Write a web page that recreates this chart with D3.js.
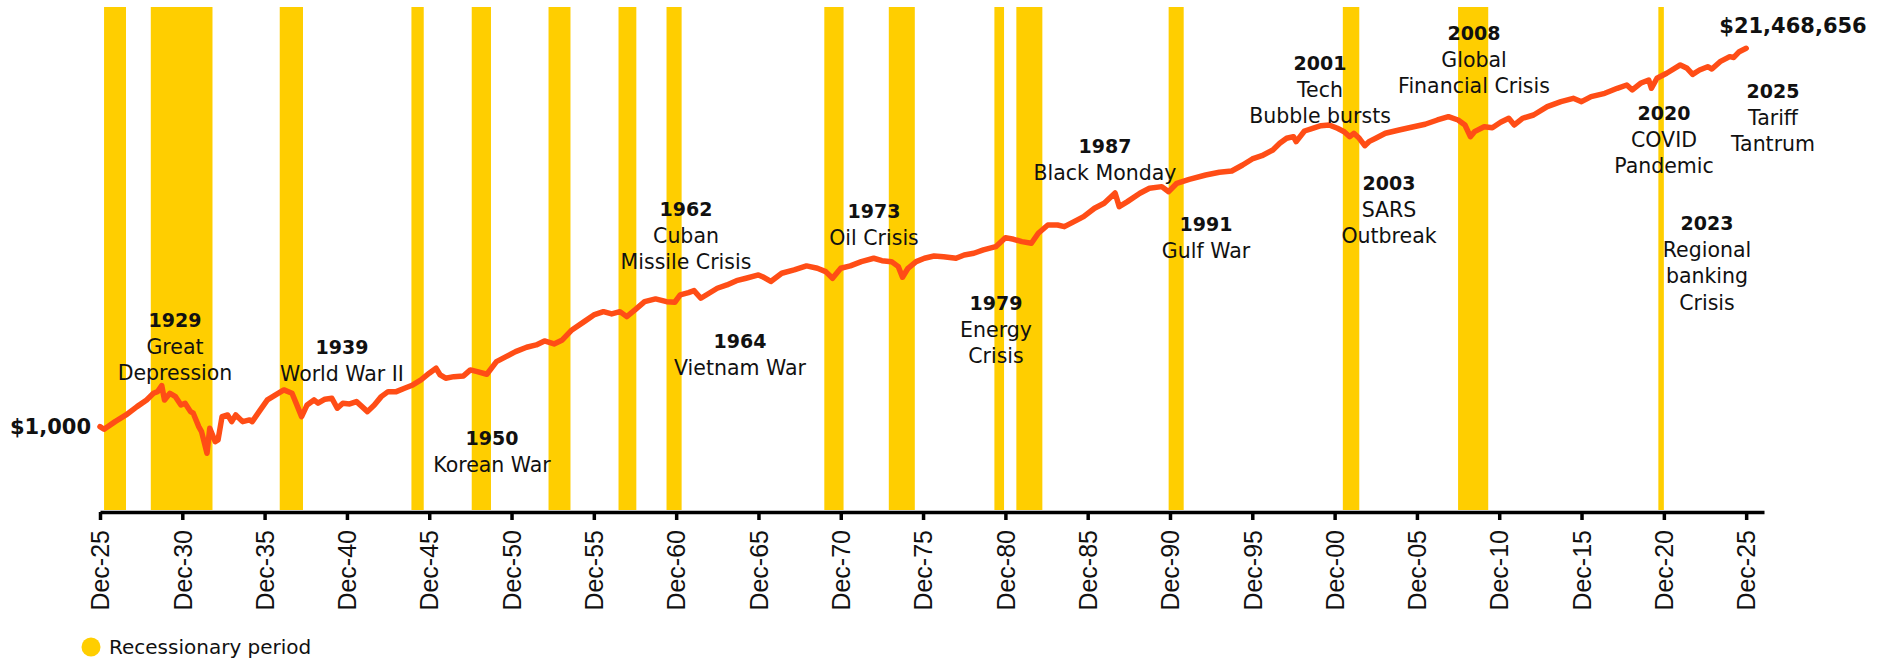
<!DOCTYPE html>
<html>
<head>
<meta charset="utf-8">
<script src="https://cdn.jsdelivr.net/npm/d3@7/dist/d3.min.js"></script>
<style>
  html, body { margin: 0; padding: 0; background: #ffffff; }
  svg { display: block; }
</style>
</head>
<body>
<svg id="chart" width="1887" height="658"></svg>
<script>
// Growth of $1,000 invested in US stocks, month of each reading
const months = [
  "1925-12","1926-03","1926-11","1927-07","1928-03","1928-10","1929-03","1929-06","1929-09","1929-11",
  "1930-03","1930-07","1930-11","1931-02","1931-06","1931-08","1931-12","1932-02","1932-06","1932-08",
  "1932-12","1933-02","1933-05","1933-09","1933-12","1934-03","1934-08","1935-01","1935-03","1935-08",
  "1936-02","1936-08","1937-02","1937-08","1937-12","1938-03","1938-07","1938-12","1939-03","1939-08",
  "1940-01","1940-05","1940-09","1941-02","1941-07","1941-11","1942-03","1942-08","1943-01","1943-06",
  "1943-12","1944-06","1944-12","1945-06","1945-12","1946-05","1946-08","1946-12","1947-06","1948-01",
  "1948-06","1948-11","1949-06","1950-01","1950-08","1951-03","1951-11","1952-06","1952-12","1953-07",
  "1954-01","1954-08","1955-05","1955-12","1956-07","1957-01","1957-07","1957-12","1958-06","1959-01",
  "1959-09","1960-05","1960-11","1961-03","1961-09","1962-01","1962-06","1962-12","1963-06","1964-01",
  "1964-08","1965-03","1965-12","1966-03","1966-09","1967-05","1968-02","1968-11","1969-07","1970-01",
  "1970-06","1970-12","1971-07","1972-03","1972-12","1973-06","1974-01","1974-06","1974-09","1975-01",
  "1975-07","1976-01","1976-08","1977-03","1977-12","1978-06","1979-01","1979-08","1980-05","1980-12",
  "1981-06","1981-12","1982-07","1982-12","1983-07","1984-02","1984-07","1985-02","1985-09","1986-05",
  "1986-12","1987-08","1987-11","1988-05","1989-02","1989-09","1990-06","1990-11","1991-05","1992-02",
  "1993-02","1993-12","1994-09","1995-05","1995-12","1996-07","1997-03","1997-08","1998-01","1998-06",
  "1998-08","1999-02","1999-08","2000-02","2000-08","2001-02","2001-07","2001-11","2002-02","2002-06",
  "2002-10","2003-01","2003-06","2004-01","2004-11","2005-08","2006-06","2007-03","2007-11","2008-06",
  "2008-11","2009-03","2009-06","2010-01","2010-07","2011-01","2011-07","2011-11","2012-05","2013-01",
  "2013-11","2014-09","2015-06","2015-12","2016-07","2017-05","2018-02","2018-09","2019-01","2019-07",
  "2020-01","2020-03","2020-07","2021-02","2021-12","2022-05","2022-09","2023-02","2023-08","2023-11",
  "2024-05","2024-12","2025-03","2025-07","2025-12"
];

// Portfolio value in dollars
const values = [
  1000, 934, 1141, 1361, 1694, 2021, 2412, 2515, 2947, 2021,
  2412, 2205, 1772, 1853, 1485, 1423, 1000, 877, 496, 959,
  673, 704, 1302, 1361, 1141, 1361, 1141, 1193, 1141, 1485,
  2021, 2307, 2632, 2412, 1694, 1302, 1772, 2021, 1853, 2059,
  2114, 1624, 1853, 1819, 1933, 1694, 1485, 1772, 2205, 2515,
  2515, 2752, 3002, 3424, 4087, 4663, 3907, 3583, 3736, 3805,
  4458, 4264, 3980, 5548, 6330, 7222, 8110, 8617, 9575, 8849,
  9831, 12790, 15920, 18990, 20730, 19500, 20730, 18170, 21680, 26980,
  28970, 26980, 26550, 32190, 34200, 36060, 29510, 33660, 38400, 41880,
  46950, 50000, 54570, 52120, 45920, 57020, 62230, 69180, 65010, 59500,
  50000, 65010, 69180, 77440, 84720, 79500, 77440, 67920, 51290, 65010,
  77440, 84720, 89950, 88310, 84720, 92470, 96620, 105400, 115000, 145800,
  139700, 131200, 125800, 163700, 203700, 203700, 195000, 222300, 253600, 316400,
  361000, 473000, 330000, 376700, 469900, 535800, 559500, 490000, 611700, 679300,
  760600, 817000, 845300, 990000, 1161000, 1265000, 1471000, 1755000, 2003000, 2089000,
  1832000, 2427000, 2606000, 2793000, 2844000, 2606000, 2384000, 2089000, 2285000, 2003000,
  1648000, 1832000, 2003000, 2285000, 2493000, 2677000, 2897000, 3244000, 3540000, 3244000,
  2844000, 2089000, 2384000, 2718000, 2648000, 3054000, 3394000, 2844000, 3394000, 3700000,
  4605000, 5257000, 5750000, 5257000, 5997000, 6557000, 7482000, 8163000, 7161000, 8535000,
  9313000, 7482000, 9742000, 11120000, 13840000, 12680000, 10820000, 12120000, 13220000, 12450000,
  15090000, 17220000, 16860000, 19630000, 21468656
];

// Recessionary periods (start / end month)
const recessionStarts = ["1926-03","1929-01","1936-11","1944-11","1948-07","1953-03","1957-06","1960-05",
                         "1969-12","1973-11","1980-04","1981-08","1990-11","2001-06","2008-06","2020-08"];
const recessionEnds   = ["1927-07","1932-10","1938-04","1945-08","1949-09","1954-07","1958-07","1961-04",
                         "1971-02","1975-06","1980-11","1983-03","1991-10","2002-06","2010-04","2020-12"];

// Axis ticks: every fifth December
const tickYears = [1925,1930,1935,1940,1945,1950,1955,1960,1965,1970,1975,
                   1980,1985,1990,1995,2000,2005,2010,2015,2020,2025];

// Event call-outs
const eventYears = ["1929","1939","1950","1962","1964","1973","1979","1987",
                    "1991","2001","2003","2008","2020","2023","2025"];
const eventLabels = [
  ["Great", "Depression"],
  ["World War II"],
  ["Korean War"],
  ["Cuban", "Missile Crisis"],
  ["Vietnam War"],
  ["Oil Crisis"],
  ["Energy", "Crisis"],
  ["Black Monday"],
  ["Gulf War"],
  ["Tech", "Bubble bursts"],
  ["SARS", "Outbreak"],
  ["Global", "Financial Crisis"],
  ["COVID", "Pandemic"],
  ["Regional", "banking", "Crisis"],
  ["Tariff", "Tantrum"]
];

const startLabel = "$1,000";
const endLabel = "$21,468,656";
const legendLabel = "Recessionary period";

// ---- layout ----
const W = 1887, H = 658;
const plotTop = 7, axisY = 512, plotBottom = 510;
const xLeft = 100, xRight = 1764;

// Call-out centre positions (x, y of the year line)
const eventPos = [
  [175, 320], [342, 347], [492, 438], [686, 209], [740, 341], [874, 211], [996, 303],
  [1105, 146], [1206, 224], [1320, 63], [1389, 183], [1474, 33], [1664, 113],
  [1707, 223], [1773, 91]
];

const COLOR_LINE = "#ff4d16";
const COLOR_BAND = "#ffce00";
const INK = "#111111";
const FONT = "'DejaVu Sans', Verdana, sans-serif";

const parseMonth = d3.timeParse("%Y-%m");
const series = months.map((m, i) => ({ date: parseMonth(m), value: values[i] }));

const x = d3.scaleTime()
  .domain([new Date(1925, 11, 1), new Date(2027, 0, 1)])
  .range([xLeft, xRight]);

const y = d3.scaleLog()
  .domain([111, 63.8e6])
  .range([plotBottom, plotTop]);

const svg = d3.select("#chart");

// Recession bands
svg.append("g")
  .selectAll("rect")
  .data(recessionStarts.map((s, i) => ({ start: parseMonth(s), end: parseMonth(recessionEnds[i]) })))
  .join("rect")
  .attr("x", d => x(d.start))
  .attr("width", d => x(d.end) - x(d.start))
  .attr("y", plotTop)
  .attr("height", plotBottom - plotTop)
  .attr("fill", COLOR_BAND);

// Growth line
const line = d3.line()
  .x(d => x(d.date))
  .y(d => y(d.value))
  .curve(d3.curveLinear);

svg.append("path")
  .datum(series)
  .attr("d", line)
  .attr("fill", "none")
  .attr("stroke", COLOR_LINE)
  .attr("stroke-width", 5.5)
  .attr("stroke-linejoin", "round")
  .attr("stroke-linecap", "round");

// X axis
const fmt = d3.timeFormat("%b-%y");
const xAxis = d3.axisBottom(x)
  .tickValues(tickYears.map(yr => new Date(yr, 11, 1)))
  .tickFormat(fmt)
  .tickSize(8)
  .tickSizeOuter(0);

const gx = svg.append("g")
  .attr("transform", `translate(0,${axisY})`)
  .call(xAxis);

gx.select(".domain")
  .attr("stroke", "#000")
  .attr("stroke-width", 3.5);
gx.selectAll(".tick line")
  .attr("stroke", "#000")
  .attr("stroke-width", 3.5);
gx.selectAll(".tick text")
  .attr("fill", INK)
  .attr("font-family", "'Liberation Sans', Arial, sans-serif")
  .attr("font-size", 25)
  .attr("x", -18)
  .attr("y", 0)
  .attr("dy", "0.35em")
  .attr("transform", "rotate(-90)")
  .style("text-anchor", "end");

// Start and end value labels
const first = series[0], last = series[series.length - 1];
svg.append("text")
  .attr("x", x(first.date) - 9)
  .attr("y", y(first.value) + 0.36 * 21)
  .attr("text-anchor", "end")
  .attr("font-family", FONT)
  .attr("font-weight", "bold")
  .attr("font-size", 21)
  .attr("fill", INK)
  .text(startLabel);

svg.append("text")
  .attr("x", 1793)
  .attr("y", 25 + 0.36 * 21)
  .attr("text-anchor", "middle")
  .attr("font-family", FONT)
  .attr("font-weight", "bold")
  .attr("font-size", 21)
  .attr("fill", INK)
  .text(endLabel);

// Event call-outs
const lineGap = 26.5;
const ev = svg.append("g").attr("font-family", FONT).attr("fill", INK).attr("text-anchor", "middle");
eventYears.forEach((yr, i) => {
  const [cx, cy] = eventPos[i];
  ev.append("text")
    .attr("x", cx)
    .attr("y", cy + 0.36 * 19)
    .attr("font-weight", "bold")
    .attr("font-size", 19)
    .text(yr);
  eventLabels[i].forEach((t, j) => {
    ev.append("text")
      .attr("x", cx)
      .attr("y", cy + lineGap * (j + 1) + 0.36 * 20.5)
      .attr("font-size", 20.5)
      .text(t);
  });
});

// Legend
const lg = svg.append("g");
lg.append("circle")
  .attr("cx", 91).attr("cy", 647).attr("r", 9.5)
  .attr("fill", COLOR_BAND);
lg.append("text")
  .attr("x", 109)
  .attr("y", 647 + 0.36 * 20)
  .attr("font-family", FONT)
  .attr("font-size", 20)
  .attr("fill", INK)
  .text(legendLabel);
</script>
</body>
</html>
